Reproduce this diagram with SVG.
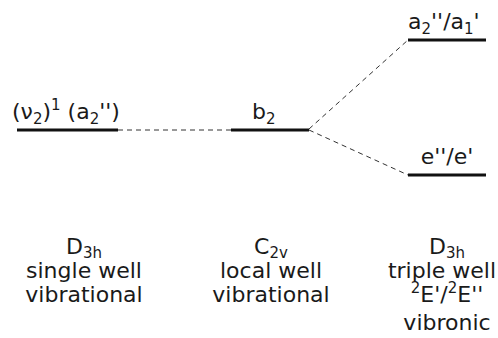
<svg xmlns="http://www.w3.org/2000/svg" width="498" height="338" viewBox="0 0 498 338">
<style>
text{font-family:"DejaVu Sans",sans-serif;font-size:22px;fill:#1a1a1a}
.lvl{stroke:#111;stroke-width:3;fill:none}
.dash{stroke:#333;stroke-width:1;stroke-dasharray:5,4;fill:none}
.c{text-anchor:middle}
.sub{font-size:15px}
</style>
<rect width="498" height="338" fill="#fff"/>
<g id="connectors">
<line class="dash" x1="118" y1="130" x2="231" y2="130"/>
<line class="dash" x1="309" y1="129" x2="408" y2="40"/>
<line class="dash" x1="309" y1="130" x2="408" y2="175"/>
</g>
<g id="level-left">
<line class="lvl" x1="17" y1="130" x2="118" y2="130"/>
<text x="12" y="119">(ν<tspan class="sub" dy="5">2</tspan><tspan dy="-5">)</tspan><tspan class="sub" dy="-9">1</tspan><tspan dy="9"> (a</tspan><tspan class="sub" dy="5">2</tspan><tspan dy="-5">'')</tspan></text>
</g>
<g id="level-mid">
<line class="lvl" x1="231" y1="130" x2="309" y2="130"/>
<text x="252" y="119">b<tspan class="sub" dy="5">2</tspan></text>
</g>
<g id="level-top">
<line class="lvl" x1="408" y1="40" x2="486" y2="40"/>
<text x="408" y="29">a<tspan class="sub" dy="5">2</tspan><tspan dy="-5">''/a</tspan><tspan class="sub" dy="5">1</tspan><tspan dy="-5">'</tspan></text>
</g>
<g id="level-bottom">
<line class="lvl" x1="408" y1="175" x2="486" y2="175"/>
<text class="c" x="447" y="164">e''/e'</text>
</g>
<g id="label-left">
<text class="c" x="84" y="254">D<tspan class="sub" dy="4">3h</tspan></text>
<text class="c" x="84" y="278">single well</text>
<text class="c" x="84" y="302">vibrational</text>
</g>
<g id="label-mid">
<text class="c" x="271" y="254">C<tspan class="sub" dy="4">2v</tspan></text>
<text class="c" x="271" y="278">local well</text>
<text class="c" x="271" y="302">vibrational</text>
</g>
<g id="label-right">
<text class="c" x="447" y="254">D<tspan class="sub" dy="4">3h</tspan></text>
<text class="c" x="442" y="278">triple well</text>
<text class="c" x="447" y="302"><tspan class="sub" dy="-9">2</tspan><tspan dy="9">E'/</tspan><tspan class="sub" dy="-9">2</tspan><tspan dy="9">E''</tspan></text>
<text class="c" x="447" y="330">vibronic</text>
</g>
</svg>
